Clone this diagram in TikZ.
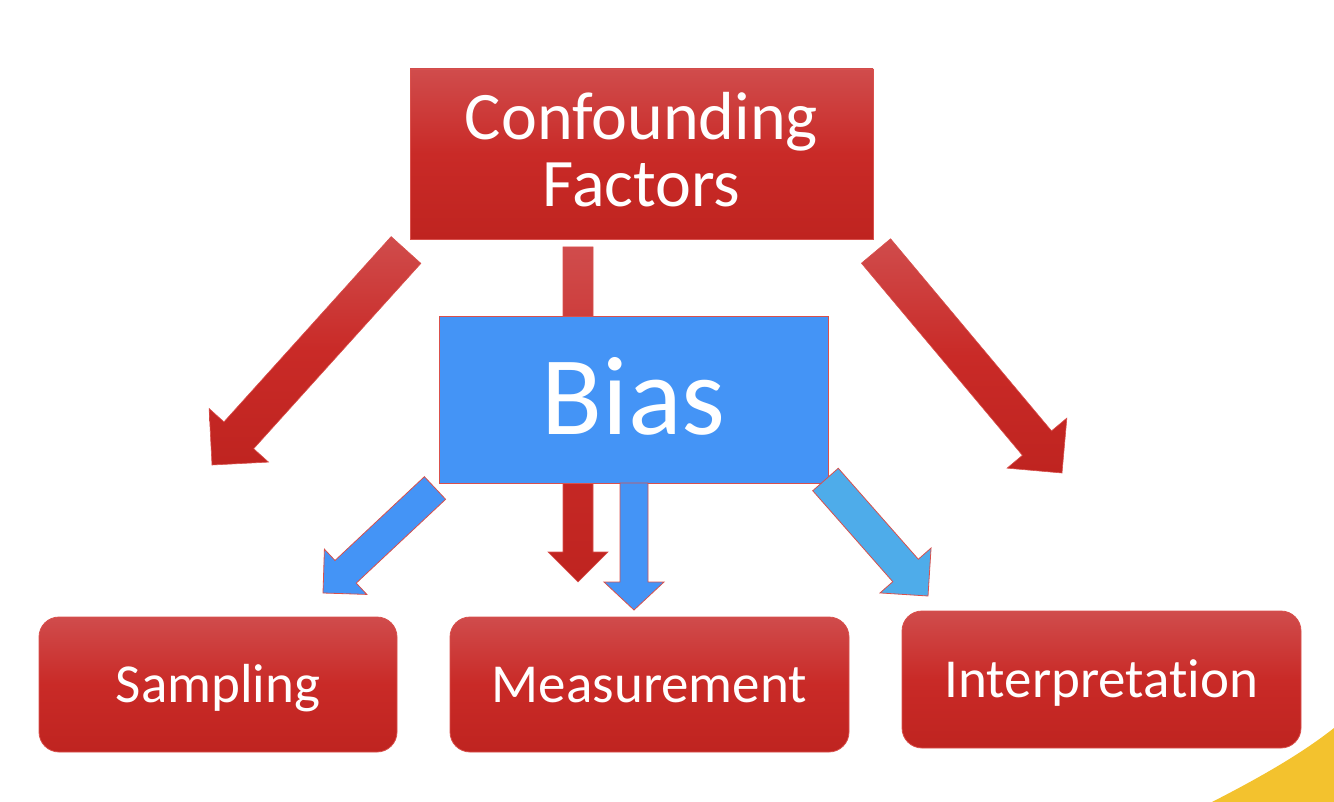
\documentclass[tikz,border=0pt]{standalone}
\usepackage{fontspec}
\setmainfont{Carlito}[Ligatures=NoCommon]
\usetikzlibrary{calc}
\definecolor{cfRedTop}{HTML}{D04C4C}
\definecolor{cfRed}{HTML}{C92A27}
\definecolor{cfRedBot}{HTML}{BF2420}
\definecolor{cfBlue}{HTML}{4494F6}
\definecolor{cfSky}{HTML}{4EACEA}
\definecolor{cfEdge}{HTML}{D9504C}
\definecolor{cfGold}{HTML}{F3C22E}

\begin{document}
\begin{tikzpicture}[x=1pt,y=-1pt,
  redbox/.style={draw=cfEdge,line width=0.8pt,top color=cfRedTop,bottom color=cfRedBot,middle color=cfRed,text=white,align=center,inner sep=0pt},
  roundbox/.style={redbox,rounded corners=20pt,minimum width=399pt,minimum height=135pt,text height=35pt,text depth=0pt,font=\fontsize{55}{55}\selectfont},
  biasbox/.style={draw=cfEdge,line width=0.8pt,fill=cfBlue,text=white,inner sep=0pt,minimum width=389pt,minimum height=167pt,text height=71pt,text depth=0pt,font=\fontsize{112}{112}\selectfont},
  redarrow/.style={draw=cfEdge,line width=0.6pt,top color=cfRedTop,bottom color=cfRedBot,middle color=cfRed},
  bluearrow/.style={draw=cfEdge,line width=0.8pt,fill=cfBlue},
  skyarrow/.style={draw=cfEdge,line width=0.8pt,fill=cfSky}]
  \useasboundingbox (0,0) rectangle (1334,802);
  % block arrow: style, tail, tip, half shaft, half head, head length
  \def\barrow#1#2#3#4#5#6{%
    \coordinate (hb) at ($(#3)!#6!(#2)$);
    \draw[#1] ($(#2)!#4!90:(#3)$) -- ($(hb)!#4!90:(#3)$) -- ($(hb)!#5!90:(#3)$) -- (#3)
      -- ($(hb)!#5!-90:(#3)$) -- ($(hb)!#4!-90:(#3)$) -- ($(#2)!#4!-90:(#3)$) -- cycle;}
  \fill[cfGold] (1212,802) .. controls (1255,780) and (1300,755) .. (1334,728) -- (1334,802) -- cycle;
  % red arrows from the confounding factors
  \coordinate (rL0) at (406,250);  \coordinate (rL1) at (212,465);
  \coordinate (rM0) at (578,247);  \coordinate (rM1) at (578,582);
  \coordinate (rR0) at (876,251);  \coordinate (rR1) at (1062,473);
  \barrow{redarrow}{rL0}{rL1}{20pt}{40pt}{40pt}
  \barrow{redarrow}{rM0}{rM1}{15pt}{30pt}{30pt}
  \barrow{redarrow}{rR0}{rR1}{19pt}{39pt}{39pt}
  \node[biasbox] (bias) at (633.5,399.5) {Bias};
  % blue arrows from bias
  \coordinate (bL0) at (435,488);  \coordinate (bL1) at (323,593);
  \coordinate (bM0) at (634,483);  \coordinate (bM1) at (634,610);
  \coordinate (bR0) at (825.5,479.5); \coordinate (bR1) at (928,596);
  \barrow{bluearrow}{bL0}{bL1}{15.5pt}{31pt}{31pt}
  \barrow{bluearrow}{bM0}{bM1}{14pt}{30pt}{28pt}
  \barrow{skyarrow}{bR0}{bR1}{17pt}{34pt}{34pt}
  \node[redbox,minimum width=463pt,minimum height=170pt,text depth=10pt,font=\fontsize{68}{67}\selectfont] (cf) at (641.5,154) {Confounding\\Factors};
  \node[roundbox,minimum width=358pt] (samp) at (218,684.5) {Sampling};
  \node[roundbox] (meas) at (649.5,684.5) {Measurement};
  \node[roundbox,minimum height=137pt] (interp) at (1101.5,679.5) {Interpretation};
\end{tikzpicture}
\end{document}
